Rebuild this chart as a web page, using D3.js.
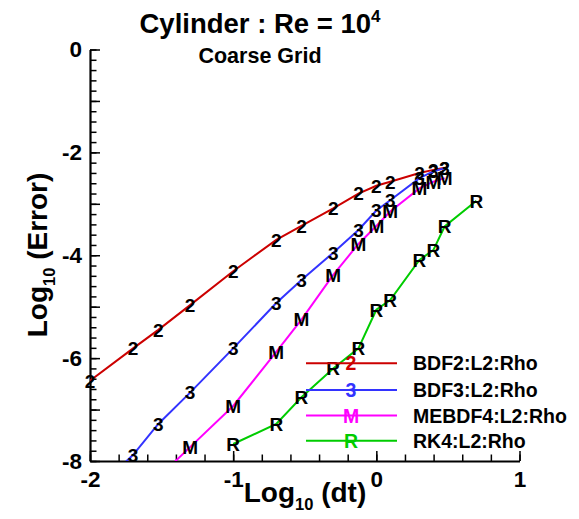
<!DOCTYPE html>
<html>
<head>
<meta charset="utf-8">
<script src="https://cdn.jsdelivr.net/npm/d3@7"></script>
<style>
  html, body { margin: 0; padding: 0; background: #fff; }
  svg { display: block; }
  text { font-family: "Liberation Sans", Arial, Helvetica, sans-serif; font-weight: bold; }
</style>
</head>
<body>
<script>
// ---- data (log10 dt, log10 error) ----
const logDt    = [-2, -1.699, -1.523, -1.301, -1, -0.699, -0.523, -0.301, -0.125, 0, 0.097, 0.301, 0.398, 0.477];
const logDtRK4 = [-1, -0.699, -0.523, -0.301, -0.125, 0, 0.097, 0.301, 0.398, 0.477, 0.699];
const bdf2   = [-6.44, -5.81, -5.45, -4.97, -4.31, -3.70, -3.43, -3.09, -2.80, -2.65, -2.57, -2.40, -2.34, -2.30];
const bdf3   = [-8.68, -7.88, -7.28, -6.67, -5.81, -4.93, -4.48, -3.95, -3.51, -3.13, -2.93, -2.50, -2.37, -2.31];
const mebdf4 = [-9.60, -8.80, -8.32, -7.73, -6.93, -5.88, -5.25, -4.38, -3.78, -3.43, -3.15, -2.70, -2.57, -2.50];
const rk4    = [-7.67, -7.28, -6.76, -6.20, -5.81, -5.06, -4.87, -4.09, -3.90, -3.44, -2.94];
const seriesNames   = ["BDF2:L2:Rho", "BDF3:L2:Rho", "MEBDF4:L2:Rho", "RK4:L2:Rho"];
const seriesSymbols = ["2", "3", "M", "R"];
const seriesColors  = ["#cc0000", "#3333ff", "#ff00ff", "#00cc00"];
const xMajorTicks = [-2, -1, 0, 1];
const yMajorTicks = [0, -1, -2, -3, -4, -5, -6, -7, -8];
const yLabelTicks = [0, -2, -4, -6, -8];

const W = 579, H = 519;
const x = d3.scaleLinear().domain([-2, 1]).range([90, 519.5]);
const y = d3.scaleLinear().domain([-8, 0]).range([461, 49.5]);

const svg = d3.select("body").append("svg").attr("width", W).attr("height", H);

svg.append("defs").append("clipPath").attr("id", "plotclip")
  .append("rect").attr("x", x(-2)).attr("y", y(0)).attr("width", x(1) - x(-2)).attr("height", y(-8) - y(0));

// titles
const t1 = svg.append("text").attr("x", 260).attr("y", 33).attr("text-anchor", "middle")
  .attr("font-size", 27.5).text("Cylinder : Re = 10");
t1.append("tspan").attr("dy", -11).attr("font-size", 17).text("4");
svg.append("text").attr("x", 260).attr("y", 63).attr("text-anchor", "middle")
  .attr("font-size", 21.5).text("Coarse Grid");

// axes
const minorX = d3.range(0, 16).map(i => -2 + i * 0.2);
const minorY = d3.range(0, 41).map(i => -8 + i * 0.2);

const gx = svg.append("g").attr("transform", `translate(0,${y(-8)})`);
gx.append("g").call(d3.axisBottom(x).tickValues(minorX).tickSize(-6.5).tickSizeOuter(0).tickFormat(""))
  .call(g => g.select(".domain").remove());
gx.append("g").call(d3.axisBottom(x).tickValues(xMajorTicks).tickSize(-10).tickSizeOuter(0).tickPadding(10)
  .tickFormat(d => String(d)))
  .call(g => g.select(".domain").attr("stroke-width", 2.2))
  .call(g => g.selectAll("text").attr("font-size", 22.5).attr("fill", "#000")
      .attr("font-family", "Liberation Sans, Arial, sans-serif").attr("font-weight", "bold"));

const gy = svg.append("g").attr("transform", `translate(${x(-2)},0)`);
gy.append("g").call(d3.axisLeft(y).tickValues(minorY).tickSize(-6.5).tickSizeOuter(0).tickFormat(""))
  .call(g => g.select(".domain").remove());
gy.append("g").call(d3.axisLeft(y).tickValues(yMajorTicks).tickSize(-10).tickSizeOuter(0).tickPadding(8)
  .tickFormat(d => yLabelTicks.includes(d) ? String(d) : ""))
  .call(g => g.select(".domain").attr("stroke-width", 2.2))
  .call(g => g.selectAll("text").attr("font-size", 22.5).attr("fill", "#000")
      .attr("font-family", "Liberation Sans, Arial, sans-serif").attr("font-weight", "bold"));
svg.selectAll(".tick line").attr("stroke-width", 1.5).attr("stroke", "#000");

// axis titles
const xl = svg.append("text").attr("x", 305).attr("y", 502).attr("text-anchor", "middle").attr("font-size", 28).text("Log");
xl.append("tspan").attr("dy", 8).attr("font-size", 16.5).text("10");
xl.append("tspan").attr("dy", -8).text(" (dt)");

const yl = svg.append("text").attr("transform", "translate(47,255) rotate(-90)").attr("text-anchor", "middle")
  .attr("font-size", 28).text("Log");
yl.append("tspan").attr("dy", 8).attr("font-size", 16.5).text("10");
yl.append("tspan").attr("dy", -8).text(" (Error)");

// series
const allSeries = [
  { xs: logDt, ys: bdf2 },
  { xs: logDt, ys: bdf3 },
  { xs: logDt, ys: mebdf4 },
  { xs: logDtRK4, ys: rk4 }
];
const line = d3.line().x(d => x(d[0])).y(d => y(d[1]));
const plot = svg.append("g");
allSeries.forEach((s, i) => {
  const pts = s.xs.map((v, j) => [v, s.ys[j]]);
  plot.append("path").datum(pts).attr("clip-path", "url(#plotclip)")
    .attr("d", line).attr("fill", "none").attr("stroke", seriesColors[i]).attr("stroke-width", 2);
  plot.selectAll(null).data(pts.filter(p => p[1] >= -8)).enter().append("text")
    .attr("x", p => x(p[0])).attr("y", p => y(p[1])).attr("dy", "0.36em")
    .attr("text-anchor", "middle").attr("font-size", 19).attr("fill", "#000")
    .text(seriesSymbols[i]);
});

// legend
const legY = [363.3, 390, 415.5, 440.7];
const leg = svg.append("g");
seriesNames.forEach((name, i) => {
  leg.append("line").attr("x1", 306).attr("x2", 397).attr("y1", legY[i]).attr("y2", legY[i])
    .attr("stroke", seriesColors[i]).attr("stroke-width", 2);
  leg.append("text").attr("x", 351).attr("y", legY[i]).attr("dy", "0.36em").attr("text-anchor", "middle")
    .attr("font-size", 19.5).attr("fill", seriesColors[i]).text(seriesSymbols[i]);
  leg.append("text").attr("x", 413).attr("y", legY[i]).attr("dy", "0.36em")
    .attr("font-size", 19.5).attr("fill", "#000").text(name);
});
</script>
</body>
</html>
